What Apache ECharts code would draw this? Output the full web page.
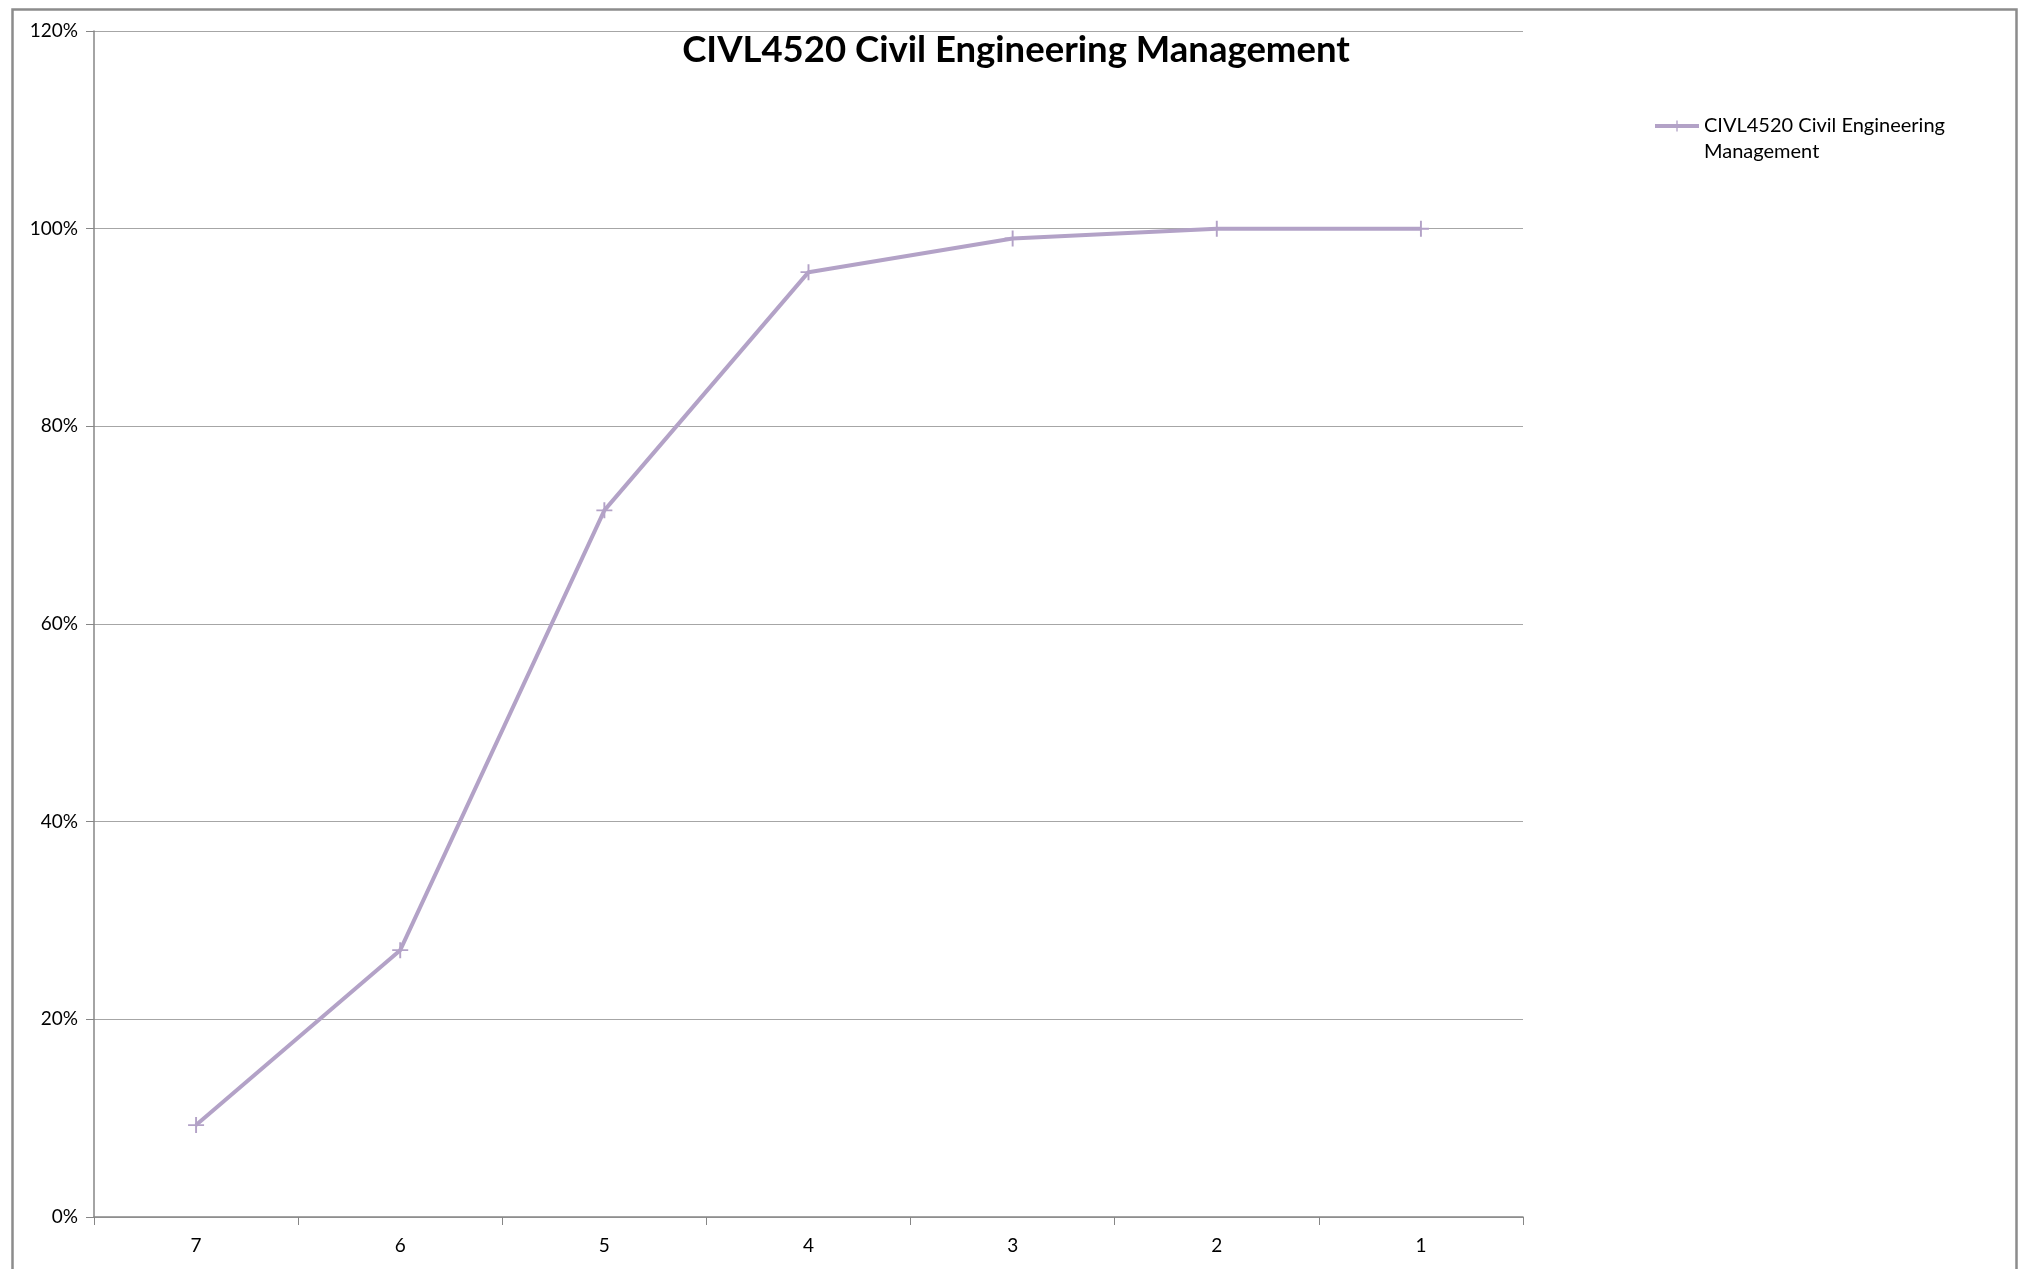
<!DOCTYPE html>
<html>
<head>
<meta charset="utf-8">
<script src="https://cdn.jsdelivr.net/npm/echarts@6/dist/echarts.min.js"></script>
<style>html,body{margin:0;padding:0;background:#fff}#c{width:2022px;height:1269px}</style>
</head>
<body>
<div id="c"></div>
<script>
var titleText = 'CIVL4520 Civil Engineering Management';
var seriesName = 'CIVL4520 Civil Engineering Management';
var categories = ['7', '6', '5', '4', '3', '2', '1'];
var values = [9.3, 27.0, 71.5, 95.6, 99.0, 100, 100];
var yTicks = [0, 20, 40, 60, 80, 100, 120];

var FONT = 'Lato';
var lineColor = '#B3A2C7';
var plusPath = 'path://M4.4,0h1.2v4.4h4.4v1.2h-4.4v4.4h-1.2v-4.4h-4.4v-1.2h4.4z';

var chart = echarts.init(document.getElementById('c'));
chart.setOption({
  animation: false,
  backgroundColor: '#fff',
  title: {
    text: titleText,
    left: 1011, top: 27, textAlign: 'center',
    textStyle: {fontFamily: FONT, fontWeight: 'bold', fontSize: 36.5, color: '#000'}
  },
  legend: {
    left: 1648, top: 82, orient: 'vertical',
    itemWidth: 44, itemHeight: 14, itemGap: 6,
    lineStyle: {width: 4},
    formatter: function () { return '\u00a0\nCIVL4520 Civil Engineering\nManagement'; },
    textStyle: {fontFamily: FONT, fontSize: 20, color: '#000', lineHeight: 26},
    data: [seriesName]
  },
  grid: {left: 94, right: 2022 - 1523, top: 31, bottom: 1269 - 1217, containLabel: false},
  xAxis: {
    type: 'category', data: categories, boundaryGap: true,
    axisLine: {lineStyle: {color: '#868686', width: 1.5}},
    axisTick: {show: true, length: 8, lineStyle: {color: '#868686'}},
    axisLabel: {fontFamily: FONT, fontSize: 19, color: '#000', margin: 19}
  },
  yAxis: {
    type: 'value', min: 0, max: 120, interval: 20,
    axisLine: {show: true, lineStyle: {color: '#868686', width: 1.5}},
    axisTick: {show: true, length: 8, lineStyle: {color: '#868686'}},
    axisLabel: {fontFamily: FONT, fontSize: 19, color: '#000', margin: 16,
      formatter: function (v) { return yTicks.indexOf(v) >= 0 ? v + '%' : ''; }},
    splitLine: {lineStyle: {color: '#A6A6A6', width: 1.2}}
  },
  graphic: [{
    type: 'rect', left: 10, top: 7, silent: true, z: -1,
    shape: {width: 2004, height: 1300},
    style: {fill: 'none', stroke: '#8C8C8C', lineWidth: 2.5}
  }],
  series: [{
    name: seriesName, type: 'line', data: values,
    symbol: plusPath, symbolSize: 16, showAllSymbol: true,
    lineStyle: {color: lineColor, width: 4},
    itemStyle: {color: lineColor},
    emphasis: {disabled: true}
  }]
});
</script>
</body>
</html>
